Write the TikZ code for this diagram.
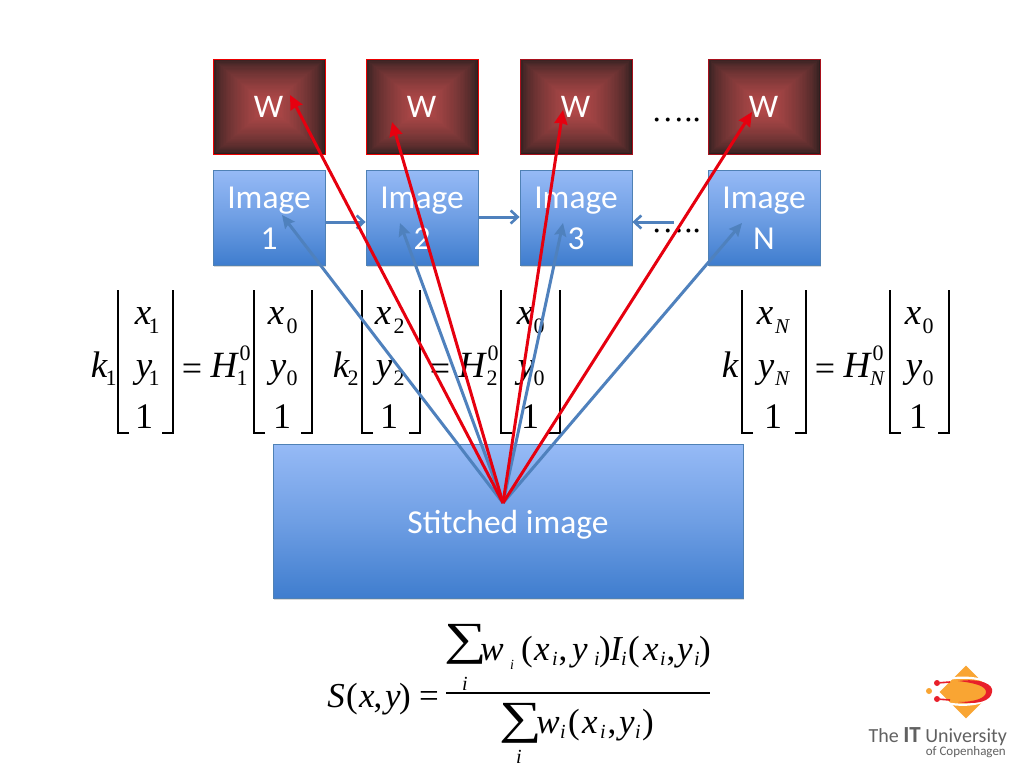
\documentclass[tikz,border=0pt]{standalone}
\usepackage{fontspec}
\setmainfont{Carlito}
\newfontfamily\mathserif{Liberation Serif}
\usetikzlibrary{arrows.meta,shapes.geometric,shadows}
\definecolor{bluetop}{HTML}{96BAF6}
\definecolor{bluebot}{HTML}{3F7DCE}
\definecolor{blueln}{HTML}{4F81B5}
\definecolor{arrowblue}{HTML}{4F81BD}
\definecolor{wedge}{HTML}{2C1E1E}
\definecolor{wmid}{HTML}{BB4C4C}
\definecolor{logoor}{HTML}{F9A533}
\definecolor{logored}{HTML}{E8202A}
\definecolor{wdark}{HTML}{A8101C}
\definecolor{arrred}{HTML}{E6000F}
\tikzset{
 blueshade/.style={rectangle,draw=blueln,line width=0.8pt,top color=bluetop,bottom color=bluebot,middle color=bluetop!55!bluebot,
   drop shadow={shadow xshift=1pt,shadow yshift=-1.5pt,opacity=0.3},
   text=white,align=center,inner sep=0pt,font=\fontsize{33.5}{41}\selectfont},
 wlabel/.style={text=white,inner sep=0pt,font=\fontsize{33}{36}\selectfont},
 chainline/.style={draw=arrowblue,line width=3pt,-{Straight Barb[length=7pt,width=13pt,line width=2.6pt]}},
 blueline/.style={draw=arrowblue,line width=3pt,-{Stealth[inset=2pt,length=13pt,width=12pt]}},
 redline/.style={draw=arrred,line width=3pt,-{Stealth[length=14pt,width=13pt,inset=1pt]}},
 mi/.style={inner sep=0pt,anchor=base,font=\mathserif\itshape\fontsize{37}{37}\selectfont},
 mr/.style={inner sep=0pt,anchor=base,font=\mathserif\fontsize{36}{36}\selectfont},
 subi/.style={inner sep=0pt,anchor=base,font=\mathserif\itshape\fontsize{21}{21}\selectfont},
 subr/.style={inner sep=0pt,anchor=base,font=\mathserif\fontsize{22}{22}\selectfont},
 bigi/.style={inner sep=0pt,anchor=base,font=\mathserif\itshape\fontsize{35}{35}\selectfont},
 bigr/.style={inner sep=0pt,anchor=base,font=\mathserif\fontsize{35}{35}\selectfont},
 smi/.style={inner sep=0pt,anchor=base,font=\mathserif\itshape\fontsize{20}{20}\selectfont},
 tinyi/.style={inner sep=0pt,anchor=base,font=\mathserif\itshape\fontsize{14}{14}\selectfont},
 sumsign/.style={inner sep=0pt,anchor=base,font=\mathserif\fontsize{46}{46}\selectfont},
 dots/.style={inner sep=0pt,text=black,font=\mathserif\fontsize{33}{33}\selectfont},
 brk/.style={line width=1.4pt,line cap=butt},
}
\newcommand{\wbox}[4]{%
 \foreach \k in {0,...,40}{
  \pgfmathsetmacro{\ff}{100*(\k/40)^0.6}
  \pgfmathsetmacro{\dx}{56*(1-\k/40)}
  \pgfmathsetmacro{\dy}{47.5*(1-\k/40)}
  \fill[wmid!\ff!wedge] (#2+56-\dx,#3+47.5-\dy) rectangle (#2+56+\dx,#3+47.5+\dy);
 }
 \node[draw=#4,line width=1pt,minimum width=112pt,minimum height=95pt,inner sep=0pt] (#1) at (#2+56,#3+47.5) {};
 \node[wlabel] (#1t) at (#2+55.5,#3+48) {W};
}
\newcommand{\brkpair}[2]{
 \draw[brk] (#1+11,433)--(#1,433)--(#1,290);
 \draw[brk] (#2-11,433)--(#2,433)--(#2,290);
}
\newcommand{\lowr}[1]{\raisebox{-11pt}[0pt][0pt]{#1}}
\newcommand{\widesum}{\scalebox{1.3}[1]{∑}}
\begin{document}
\begin{tikzpicture}[x=1pt,y=-1pt]
\useasboundingbox (0,0) rectangle (1024,768);
\fill[white] (0,0) rectangle (1024,768);

% equations
\node[mi] (k1) at (99,377) {k};
\node[subr] (k1s) at (111,385) {1};
\brkpair{118}{173}
\node[mi] (x1) at (143,324) {x};
\node[subr] (x1s) at (154,333) {1};
\node[mi] (y1) at (144,377) {y};
\node[subr] (y1s) at (154,385) {1};
\node[mr] (o1) at (144,428) {1};
\node[mr] (eq1) at (192,380) {=};
\node[mi] (H1) at (224,377) {H};
\node[subr] (H1u) at (245,360) {0};
\node[subr] (H1d) at (242,385) {1};
\brkpair{254}{312}
\node[mi] (x01) at (276,324) {x};
\node[subr] (x01s) at (292,333) {0};
\node[mi] (y01) at (278,377) {y};
\node[subr] (y01s) at (292,385) {0};
\node[mr] (o01) at (282,428) {1};

\node[mi] (k2) at (341,377) {k};
\node[subr] (k2s) at (353,385) {2};
\brkpair{362}{420}
\node[mi] (x2) at (383,324) {x};
\node[subr] (x2s) at (399,333) {2};
\node[mi] (y2) at (384,377) {y};
\node[subr] (y2s) at (399,385) {2};
\node[mr] (o2) at (389,428) {1};
\node[mr] (eq2) at (440,380) {=};
\node[mi] (H2) at (472,377) {H};
\node[subr] (H2u) at (493,360) {0};
\node[subr] (H2d) at (492,385) {2};
\brkpair{501}{560}
\node[mi] (x02) at (525,324) {x};
\node[subr] (x02s) at (539,333) {0};
\node[mi] (y02) at (526,377) {y};
\node[subr] (y02s) at (539,385) {0};
\node[mr] (o02) at (530,428) {1};

\node[mi] (kN) at (730,377) {k};
\brkpair{742}{806}
\node[mi] (xN) at (765,324) {x};
\node[subi] (xNs) at (782,333) {N};
\node[mi] (yN) at (766,377) {y};
\node[subi] (yNs) at (782,385) {N};
\node[mr] (oN) at (773,428) {1};
\node[mr] (eqN) at (825,380) {=};
\node[mi] (HN) at (857,377) {H};
\node[subr] (HNu) at (878,360) {0};
\node[subi] (HNd) at (877,385) {N};
\brkpair{890}{949}
\node[mi] (x0N) at (913,324) {x};
\node[subr] (x0Ns) at (928,333) {0};
\node[mi] (y0N) at (914,377) {y};
\node[subr] (y0Ns) at (928,385) {0};
\node[mr] (o0N) at (918,428) {1};

% W boxes
\wbox{w1}{213}{59}{red!92!black}
\wbox{w2}{366}{59}{red!92!black}
\wbox{w3}{520}{59}{wdark}
\wbox{wN}{708}{59}{wdark}

% image boxes
\node[blueshade,minimum width=112pt,minimum height=95pt] (i1) at (269,217.5) {\lowr{Image}\\\lowr{1}};
\node[blueshade,minimum width=112pt,minimum height=95pt] (i2) at (422,217.5) {\lowr{Image}\\\lowr{2}};
\node[blueshade,minimum width=112pt,minimum height=95pt] (i3) at (576,217.5) {\lowr{Image}\\\lowr{3}};
\node[blueshade,minimum width=112pt,minimum height=95pt] (iN) at (764,217.5) {\lowr{Image}\\\lowr{N}};
\node[blueshade,minimum width=470pt,minimum height=154pt] (st) at (508,521) {\raisebox{-12pt}[0pt][0pt]{Stitched image}};

\node[dots] (d1) at (676,120) {…..};
\node[dots] (d2) at (676,231) {…..};

% chain arrows
\coordinate (cN) at (674,222);
\draw[chainline] (i1.east|-0,222) -- (i2.west|-0,222);
\draw[chainline] (i2.east|-0,217) -- (i3.west|-0,217);
\draw[chainline] (cN) -- (i3.east|-0,222);

% fan
\coordinate (o) at (503,503);
\coordinate (b1) at (282,215);
\coordinate (b2) at (400,223);
\coordinate (b3) at (563,223);
\coordinate (bN) at (742,223);
\coordinate (r1) at (290,95);
\coordinate (r2) at (392,122);
\coordinate (r3) at (563,110);
\coordinate (rN) at (752,112);
\foreach \t in {b1,b2,b3,bN} \draw[blueline] (o) -- (\t);
\foreach \t in {r1,r2,r3,rN} \draw[redline] (o) -- (\t);

% sum equation
\node[bigi] (S) at (336,707) {S};
\node[bigr] (Sa) at (352,707) {(};
\node[bigi] (Sb) at (367,707) {x};
\node[bigr] (Sc) at (378,707) {,};
\node[bigi] (Sd) at (393,707) {y};
\node[bigr] (Se) at (405,707) {)};
\node[bigr] (Sf) at (429,707) {=};
\draw[line width=1.3pt] (446,693) -- (710,693);
\node[sumsign] (s1) at (466,654) {\widesum};
\node[bigi] (na) at (492,660) {w};
\node[tinyi] (nb) at (512,669) {i};
\node[bigr] (nc) at (527,660) {(};
\node[bigi] (nd) at (542,660) {x};
\node[smi] (ne) at (555,665) {i};
\node[bigr] (nf) at (563,660) {,};
\node[bigi] (ng) at (580,660) {y};
\node[smi] (nh) at (597,665) {i};
\node[bigr] (ni) at (605,660) {)};
\node[bigi] (nj) at (616,660) {I};
\node[smi] (nk) at (624,665) {i};
\node[bigr] (nl) at (634,660) {(};
\node[bigi] (nm) at (651,660) {x};
\node[smi] (nn) at (663,665) {i};
\node[bigr] (no) at (671,660) {,};
\node[bigi] (np) at (685,660) {y};
\node[smi] (nq) at (697,665) {i};
\node[bigr] (nr) at (705,660) {)};
\node[smi] (s1i) at (465,690) {i};
\node[sumsign] (s2) at (521,733) {\widesum};
\node[bigi] (da) at (548,733) {w};
\node[smi] (db) at (563,738) {i};
\node[bigr] (dc) at (574,733) {(};
\node[bigi] (dd) at (590,733) {x};
\node[smi] (de) at (603,738) {i};
\node[bigr] (df) at (612,733) {,};
\node[bigi] (dg) at (627,733) {y};
\node[smi] (dh) at (638,738) {i};
\node[bigr] (di) at (648,733) {)};
\node[smi] (s2i) at (519,763) {i};

% logo
\node[diamond,fill=logoor,minimum width=53pt,minimum height=53pt,inner sep=0pt] (ld) at (966,692) {};
\draw[white,line width=2.2pt] (941,680) .. controls (970,674) and (996,680) .. (993,692) .. controls (990,704) and (965,708) .. (941,702);
\fill[logored] (958,681) .. controls (980,678) and (994,684) .. (992,692) .. controls (991,701) and (978,705) .. (958,702)
  .. controls (975,702) and (986,698) .. (986,692) .. controls (986,686) and (975,683) .. (958,681) -- cycle;
\node[circle,fill=logored,minimum size=6pt,inner sep=0pt] (lr1) at (937,683) {};
\node[circle,fill=logored,minimum size=6pt,inner sep=0pt] (lr2) at (937,699) {};
\node[circle,fill=logoor,minimum size=6pt,inner sep=0pt] (lo) at (929,691) {};
\draw[logored,line width=1.6pt] (lr1) -- (950,682);
\draw[logored,line width=1.6pt] (lr2) -- (950,700);
\node[inner sep=0pt,anchor=base east,text=black!62,font=\fontsize{20}{20}\selectfont] (lt) at (1007,742) {The {\fontsize{23}{23}\selectfont\textbf{IT}} University};
\node[inner sep=0pt,anchor=base east,text=black!62,font=\fontsize{13}{13}\selectfont] (lc) at (1006,755) {of Copenhagen};
\end{tikzpicture}
\end{document}
